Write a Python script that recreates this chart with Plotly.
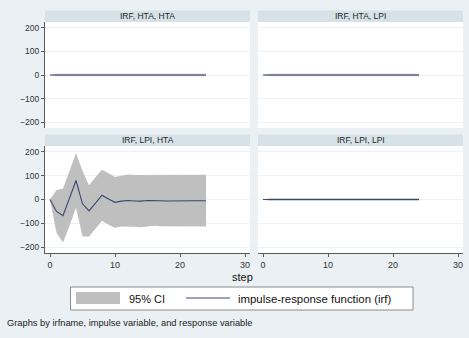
import plotly.graph_objects as go

# ---- data ----
steps = [0, 1, 2, 3, 4, 5, 6, 7, 8, 9, 10, 11, 12, 13, 14, 15, 16, 17, 18, 19, 20, 21, 22, 23, 24]

irf_hta_hta = [0, 0, 0, 0, 0, 0, 0, 0, 0, 0, 0, 0, 0, 0, 0, 0, 0, 0, 0, 0, 0, 0, 0, 0, 0]
hi_hta_hta = [0, 5, 5, 5, 5, 5, 5, 5, 5, 5, 5, 5, 5, 5, 5, 5, 5, 5, 5, 5, 5, 5, 5, 5, 5]
lo_hta_hta = [0, -5, -5, -5, -5, -5, -5, -5, -5, -5, -5, -5, -5, -5, -5, -5, -5, -5, -5, -5, -5, -5, -5, -5, -5]

irf_hta_lpi = [0, 0, 0, 0, 0, 0, 0, 0, 0, 0, 0, 0, 0, 0, 0, 0, 0, 0, 0, 0, 0, 0, 0, 0, 0]
hi_hta_lpi = [0, 5, 5, 5, 5, 5, 5, 5, 5, 5, 5, 5, 5, 5, 5, 5, 5, 5, 5, 5, 5, 5, 5, 5, 5]
lo_hta_lpi = [0, -5, -5, -5, -5, -5, -5, -5, -5, -5, -5, -5, -5, -5, -5, -5, -5, -5, -5, -5, -5, -5, -5, -5, -5]

irf_lpi_hta = [0, -50, -68, 5, 80, -18, -48, -15, 18, 2, -12, -7, -4, -6, -7, -4, -3, -5, -6, -5, -4, -5, -5, -5, -5]
hi_lpi_hta = [0, 40, 45, 120, 195, 120, 60, 94, 125, 110, 95, 100, 105, 103, 103, 104, 104, 103, 103, 103, 103, 104, 104, 104, 104]
lo_lpi_hta = [0, -140, -181, -110, -35, -156, -156, -124, -89, -106, -119, -114, -113, -115, -117, -112, -110, -113, -115, -113, -112, -114, -114, -114, -114]

irf_lpi_lpi = [0, 0, 0, 0, 0, 0, 0, 0, 0, 0, 0, 0, 0, 0, 0, 0, 0, 0, 0, 0, 0, 0, 0, 0, 0]
hi_lpi_lpi = [0, 5, 5, 5, 5, 5, 5, 5, 5, 5, 5, 5, 5, 5, 5, 5, 5, 5, 5, 5, 5, 5, 5, 5, 5]
lo_lpi_lpi = [0, -5, -5, -5, -5, -5, -5, -5, -5, -5, -5, -5, -5, -5, -5, -5, -5, -5, -5, -5, -5, -5, -5, -5, -5]

panel_titles = ["IRF, HTA, HTA", "IRF, HTA, LPI", "IRF, LPI, HTA", "IRF, LPI, LPI"]
y_ticks = [-200, -100, 0, 100, 200]
x_ticks = [0, 10, 20, 30]
x_title = "step"
legend_ci = "95% CI"
legend_irf = "impulse-response function (irf)"
note = "Graphs by irfname, impulse variable, and response variable"

# ---- style ----
W, H = 469, 338
BG = "#eaf0f3"
STRIP = "#d6e2e8"
CI_COL = "#bfbfbf"
LINE_COL = "#3a4670"
AXIS_COL = "#5a5a5a"
GRID_COL = "#edf2f5"
FONT = "Liberation Sans, Arial, sans-serif"

def px_x(v):
    return v / W

def px_y(v):
    return 1 - v / H

# panel boxes in pixels: (x0, x1, y0, y1)
panels = [
    (45, 250, 22, 128),
    (258, 463, 22, 128),
    (45, 250, 146, 253),
    (258, 463, 146, 253),
]
strip_h = 11.5

series = [
    (irf_hta_hta, hi_hta_hta, lo_hta_hta),
    (irf_hta_lpi, hi_hta_lpi, lo_hta_lpi),
    (irf_lpi_hta, hi_lpi_hta, lo_lpi_hta),
    (irf_lpi_lpi, hi_lpi_lpi, lo_lpi_lpi),
]

fig = go.Figure()
shapes = []
annotations = []
layout_axes = {}

for i, ((x0, x1, y0, y1), (irf, hi, lo), title) in enumerate(zip(panels, series, panel_titles)):
    n = i + 1
    xa = "x" if n == 1 else f"x{n}"
    ya = "y" if n == 1 else f"y{n}"
    xkey = "xaxis" if n == 1 else f"xaxis{n}"
    ykey = "yaxis" if n == 1 else f"yaxis{n}"

    fig.add_trace(go.Scatter(
        x=steps + steps[::-1], y=hi + lo[::-1],
        fill="toself", fillcolor=CI_COL, line=dict(width=0, color=CI_COL),
        mode="lines", showlegend=False, hoverinfo="skip",
        xaxis=xa, yaxis=ya,
    ))
    fig.add_trace(go.Scatter(
        x=steps, y=irf, mode="lines",
        line=dict(color=LINE_COL, width=1.1),
        showlegend=False, xaxis=xa, yaxis=ya,
    ))

    left = x0 == 45
    bottom = y0 == 146
    layout_axes[xkey] = dict(
        domain=[px_x(x0), px_x(x1)], anchor=ya, range=[-0.77, 30.77],
        showgrid=False, zeroline=False,
        showline=bottom, linecolor=AXIS_COL, linewidth=1,
        ticks="outside" if bottom else "", ticklen=3, tickcolor=AXIS_COL,
        tickvals=x_ticks, showticklabels=bottom, ticklabeloverflow="allow",
        tickfont=dict(size=9, color="#333333", family=FONT),
    )
    layout_axes[ykey] = dict(
        domain=[px_y(y1), px_y(y0)], anchor=xa, range=[-225, 225],
        showgrid=True, gridcolor=GRID_COL, gridwidth=1, zeroline=False,
        showline=left, linecolor=AXIS_COL, linewidth=1,
        ticks="outside" if left else "", ticklen=3, tickcolor=AXIS_COL,
        tickvals=y_ticks, showticklabels=left, ticklabeloverflow="allow",
        tickfont=dict(size=8.5, color="#333333", family=FONT),
    )

    # strip
    shapes.append(dict(type="rect", xref="paper", yref="paper",
                       x0=px_x(x0), x1=px_x(x1), y0=px_y(y0), y1=px_y(y0 - strip_h),
                       fillcolor=STRIP, line=dict(width=0), layer="below"))
    annotations.append(dict(text=title, xref="paper", yref="paper",
                            x=px_x((x0 + x1) / 2), y=px_y(y0 - strip_h / 2),
                            showarrow=False, xanchor="center", yanchor="middle",
                            font=dict(size=8.5, color="#222222", family=FONT)))

# x-axis title
annotations.append(dict(text=x_title, xref="paper", yref="paper",
                        x=px_x(243), y=px_y(277), showarrow=False,
                        xanchor="center", yanchor="middle",
                        font=dict(size=11, color="#111111", family=FONT)))

# legend box (drawn by hand to match layout)
shapes.append(dict(type="rect", xref="paper", yref="paper",
                   x0=px_x(70.5), x1=px_x(413), y0=px_y(310), y1=px_y(287),
                   fillcolor="white", line=dict(color="#8c8c8c", width=1)))
shapes.append(dict(type="rect", xref="paper", yref="paper",
                   x0=px_x(76), x1=px_x(120), y0=px_y(304), y1=px_y(292),
                   fillcolor=CI_COL, line=dict(width=0)))
annotations.append(dict(text=legend_ci, xref="paper", yref="paper",
                        x=px_x(127), y=px_y(298.5), showarrow=False,
                        xanchor="left", yanchor="middle",
                        font=dict(size=11, color="#111111", family=FONT)))
shapes.append(dict(type="line", xref="paper", yref="paper",
                   x0=px_x(186), x1=px_x(230), y0=px_y(298), y1=px_y(298),
                   line=dict(color=LINE_COL, width=1.1)))
annotations.append(dict(text=legend_irf, xref="paper", yref="paper",
                        x=px_x(236), y=px_y(298.5), showarrow=False,
                        xanchor="left", yanchor="middle",
                        font=dict(size=11.4, color="#111111", family=FONT)))

# note
annotations.append(dict(text=note, xref="paper", yref="paper",
                        x=px_x(5), y=px_y(323), showarrow=False,
                        xanchor="left", yanchor="middle",
                        font=dict(size=9.3, color="#222222", family=FONT)))

fig.update_layout(
    width=W, height=H, margin=dict(l=0, r=0, t=0, b=0),
    paper_bgcolor=BG, plot_bgcolor="white",
    shapes=shapes, annotations=annotations, showlegend=False,
    font=dict(family=FONT),
    **layout_axes,
)

fig.write_html(
    "out.html",
    config={"displayModeBar": False},
    post_script="document.body.style.margin='0';document.body.style.overflow='hidden';",
)
